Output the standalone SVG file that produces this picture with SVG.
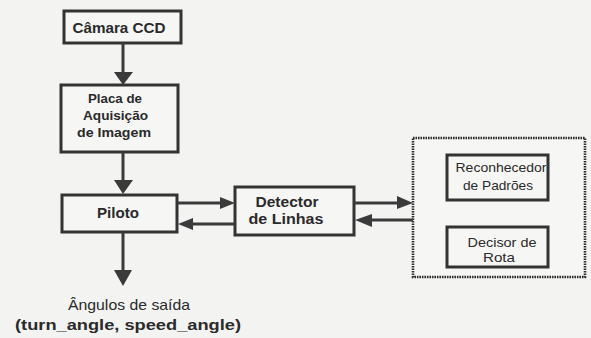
<svg xmlns="http://www.w3.org/2000/svg" width="591" height="338" viewBox="0 0 591 338">
  <style>
    .box { fill: #f6f6f4; stroke: #333; stroke-width: 3; }
    .dotbox { fill: #f6f6f4; stroke: #2e2e2e; stroke-width: 2.6; stroke-dasharray: 1.6 0.9; }
    .line { stroke: #3a3a3a; stroke-width: 3; fill: none; }
    .head { fill: #3a3a3a; }
    .b { font-family: "Liberation Sans", Arial, sans-serif; font-weight: bold; fill: #2a2a2a; text-anchor: middle; }
    .r { font-family: "Liberation Sans", Arial, sans-serif; fill: #2a2a2a; text-anchor: middle; }
  </style>
  <rect width="591" height="338" fill="#f3f4f2"/>

  <g id="camera">
    <rect class="box" x="64" y="11" width="117" height="32"/>
    <text class="b" x="119" y="33" font-size="14" textLength="93" lengthAdjust="spacingAndGlyphs">Câmara CCD</text>
  </g>

  <g id="placa">
    <rect class="box" x="61" y="85" width="117" height="67"/>
    <text class="b" x="115" y="103" font-size="13.5" textLength="54" lengthAdjust="spacingAndGlyphs">Placa de</text>
    <text class="b" x="115.5" y="120" font-size="13.5" textLength="65" lengthAdjust="spacingAndGlyphs">Aquisição</text>
    <text class="b" x="114" y="137" font-size="13.5" textLength="74" lengthAdjust="spacingAndGlyphs">de Imagem</text>
  </g>

  <g id="piloto">
    <rect class="box" x="62" y="195" width="115" height="37"/>
    <text class="b" x="118" y="218" font-size="14" textLength="42" lengthAdjust="spacingAndGlyphs">Piloto</text>
  </g>

  <g id="detector">
    <rect class="box" x="235" y="187" width="119" height="48"/>
    <text class="b" x="287" y="207" font-size="14.5" textLength="63" lengthAdjust="spacingAndGlyphs">Detector</text>
    <text class="b" x="286" y="224" font-size="14.5" textLength="75" lengthAdjust="spacingAndGlyphs">de Linhas</text>
  </g>

  <g id="modulo">
    <rect class="dotbox" x="413" y="138" width="172" height="139"/>
    <g id="reconhecedor">
      <rect class="box" x="447" y="155" width="101" height="45"/>
      <text class="r" x="501" y="172" font-size="13.5" textLength="91" lengthAdjust="spacingAndGlyphs">Reconhecedor</text>
      <text class="r" x="498" y="190" font-size="13.5" textLength="70" lengthAdjust="spacingAndGlyphs">de Padrões</text>
    </g>
    <g id="decisor">
      <rect class="box" x="447" y="227" width="101" height="40"/>
      <text class="r" x="502" y="247" font-size="13.5" textLength="69" lengthAdjust="spacingAndGlyphs">Decisor de</text>
      <text class="r" x="499" y="262" font-size="13.5" textLength="32" lengthAdjust="spacingAndGlyphs">Rota</text>
    </g>
  </g>

  <g id="saida">
    <text class="r" x="129" y="310" font-size="15" textLength="122" lengthAdjust="spacingAndGlyphs">Ângulos de saída</text>
    <text class="b" x="128" y="330" font-size="15" textLength="226" lengthAdjust="spacingAndGlyphs">(turn_angle, speed_angle)</text>
  </g>

  <g id="connectors">
    <line class="line" x1="123" y1="43" x2="123" y2="74"/>
    <polygon class="head" points="114,72 133,72 123,85"/>
    <line class="line" x1="123" y1="152" x2="123" y2="182"/>
    <polygon class="head" points="114,180 133,180 123,194"/>
    <line class="line" x1="123" y1="232" x2="123" y2="272"/>
    <polygon class="head" points="114,270 132,270 123,286"/>

    <line class="line" x1="177" y1="203" x2="222" y2="203"/>
    <polygon class="head" points="220,197 220,209 235,203"/>
    <line class="line" x1="190" y1="224" x2="235" y2="224"/>
    <polygon class="head" points="193,218 193,230 178,224"/>

    <line class="line" x1="354" y1="203" x2="399" y2="203"/>
    <polygon class="head" points="397,196 397,209 413,203"/>
    <line class="line" x1="370" y1="220" x2="413" y2="220"/>
    <polygon class="head" points="372,214 372,227 355,220"/>
  </g>
</svg>
